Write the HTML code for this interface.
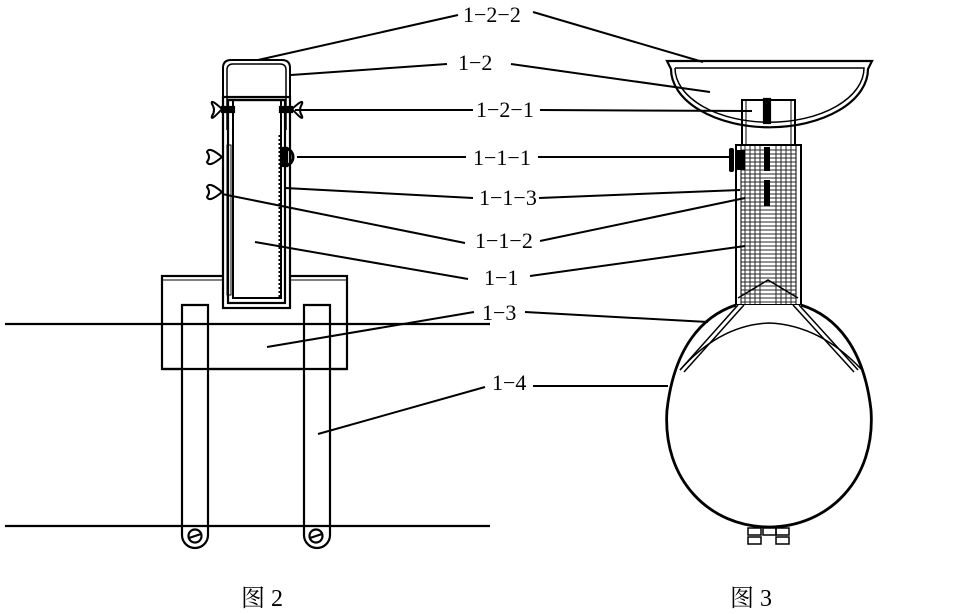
<!DOCTYPE html>
<html><head><meta charset="utf-8"><style>
html,body{margin:0;padding:0;background:#fff;}
svg{display:block}
text{font-family:"Liberation Serif","Noto Serif CJK SC",serif;font-size:22px;fill:#000}
</style></head><body>
<svg width="969" height="614" viewBox="0 0 969 614" xmlns="http://www.w3.org/2000/svg">
<g fill="none" stroke="#000" stroke-width="2.2">
<rect x="162" y="276" width="185" height="93" fill="#fff"/>
<line x1="162" y1="280" x2="347" y2="280" stroke-width="1"/>
<path d="M182 305 H208 V535 A13 13 0 0 1 182 535 Z" fill="#fff"/>
<path d="M304 305 H330 V535 A13 13 0 0 1 304 535 Z" fill="#fff"/>
<line x1="162" y1="369" x2="347" y2="369"/>
<line x1="5" y1="324" x2="490" y2="324"/>
<line x1="5" y1="526" x2="490" y2="526"/>
<circle cx="195" cy="536" r="6.5"/><line x1="189" y1="538" x2="201" y2="534"/>
<circle cx="316" cy="536" r="6.5"/><line x1="310" y1="538" x2="322" y2="534"/>
<rect x="223" y="97" width="67" height="211" fill="#fff"/>
<rect x="228" y="100" width="57" height="203"/>
<rect x="233" y="100" width="48" height="198" stroke-width="2"/>
<path d="M223 130 V68 Q223 60 231 60 H282 Q290 60 290 68 V130" stroke-width="2"/>
<path d="M227 130 V70 Q227 64 233 64 H280 Q286 64 286 70 V130" stroke-width="1.5"/>
<line x1="228" y1="100" x2="285" y2="100"/>
<rect x="227" y="145" width="4" height="150" stroke-width="1"/>
<line x1="280" y1="135" x2="280" y2="298" stroke-width="3" stroke-dasharray="2 2"/>
<rect x="222" y="107" width="12" height="5" fill="#000"/>
<rect x="280" y="107" width="12" height="5" fill="#000"/>
<path d="M222 109 Q210 98 212 104 Q216 110 212 116 Q210 122 222 109" stroke-width="2"/>
<path d="M292 109 Q304 98 302 104 Q298 110 302 116 Q304 122 292 109" stroke-width="2"/>
<path d="M222 157 Q209 146 207 152 Q211 157 207 162 Q209 168 222 157" stroke-width="2"/>
<path d="M222 192 Q209 181 207 187 Q211 192 207 197 Q209 203 222 192" stroke-width="2"/>
<path d="M284 148 A9 9 0 0 1 284 166" stroke-width="3"/>
<rect x="281" y="148" width="6" height="18" fill="#000"/>
<path d="M667 61 H872 L868 69 A98 58 0 0 1 671 69 Z" fill="#fff"/>
<path d="M675 68 H864 A94 54 0 0 1 675 68" stroke-width="1.5"/>
<rect x="742" y="100" width="53" height="45" stroke-width="2"/>
<line x1="746" y1="100" x2="746" y2="145" stroke-width="1"/>
<line x1="791" y1="100" x2="791" y2="145" stroke-width="1"/>
<rect x="764" y="99" width="6" height="24" fill="#000"/>
<rect x="736" y="145" width="65" height="160" stroke-width="2"/>
<rect x="741" y="145" width="55" height="160" stroke-width="1"/>
</g>
<g stroke="#000" stroke-width="1" opacity="0.85">
<path d="M741 150H796M741 154H796M741 158H796M741 162H796M741 166H796M741 170H796M741 174H796M741 178H796M741 182H796M741 186H796M741 190H796M741 194H796M741 198H796M741 202H796M741 206H796M741 210H796M741 214H796M741 218H796M741 222H796M741 226H796M741 230H796M741 234H796M741 238H796M741 242H796M741 246H796M741 250H796M741 254H796M741 258H796M741 262H796M741 266H796M741 270H796M741 274H796M741 278H796M741 282H796M741 286H796M741 290H796M741 294H796M741 298H796M741 302H796"/>
<path d="M745 145V305M750 145V305M755 145V305M760 145V305M776 145V305M781 145V305M786 145V305M791 145V305"/>
</g>
<g fill="#000">
<rect x="764" y="147" width="6" height="24"/>
<rect x="764" y="180" width="6" height="26"/>
<rect x="737" y="150" width="8" height="20"/>
<rect x="729" y="148" width="5" height="24" rx="2"/>
</g>
<g fill="none" stroke="#000" stroke-width="2.2">
<path d="M738 298 L768 280 L798 298" stroke-width="1.5"/>
<path d="M736 305 C702 316 674 348 667 410 C662 480 710 527 769 527 C828 527 876 480 871 410 C864 348 836 316 801 305" stroke-width="2.8" fill="#fff"/>
<path d="M680 370 Q720 325 769 323 Q820 325 862 370" stroke-width="1.5"/>
<path d="M738 305 L680 370 M744 305 L684 372 M799 305 L858 370 M793 305 L854 372" stroke-width="1.5"/>
<rect x="748" y="528" width="13" height="7" stroke-width="1.5"/>
<rect x="763" y="528" width="13" height="7" stroke-width="1.5"/>
<rect x="748" y="537" width="13" height="7" stroke-width="1.5"/>
<rect x="776" y="537" width="13" height="7" stroke-width="1.5"/>
<rect x="776" y="528" width="13" height="7" stroke-width="1.5"/>
</g>
<g stroke="#000" stroke-width="2" fill="none">
<line x1="258" y1="60" x2="458" y2="15"/><line x1="533" y1="12" x2="703" y2="62"/>
<line x1="291" y1="75" x2="447" y2="64"/><line x1="511" y1="64" x2="710" y2="92"/>
<line x1="295" y1="110" x2="473" y2="110"/><line x1="540" y1="110" x2="752" y2="111"/>
<line x1="297" y1="157" x2="466" y2="157"/><line x1="538" y1="157" x2="730" y2="157"/>
<line x1="285" y1="188" x2="473" y2="198"/><line x1="539" y1="198" x2="740" y2="190"/>
<line x1="222" y1="194" x2="465" y2="243"/><line x1="540" y1="241" x2="745" y2="198"/>
<line x1="255" y1="242" x2="468" y2="279"/><line x1="530" y1="276" x2="745" y2="246"/>
<line x1="267" y1="347" x2="474" y2="312"/><line x1="525" y1="312" x2="708" y2="322"/>
<line x1="318" y1="434" x2="485" y2="387"/><line x1="533" y1="386" x2="668" y2="386"/>
</g>
<g>
<text x="463" y="22">1−2−2</text>
<text x="458" y="70">1−2</text>
<text x="476" y="117">1−2−1</text>
<text x="473" y="165">1−1−1</text>
<text x="479" y="205">1−1−3</text>
<text x="475" y="248">1−1−2</text>
<text x="484" y="285">1−1</text>
<text x="482" y="320">1−3</text>
<text x="492" y="390">1−4</text>
<text x="241" y="606" style="font-size:24px">图 2</text>
<text x="730" y="606" style="font-size:24px">图 3</text>
</g>
</svg>
</body></html>
